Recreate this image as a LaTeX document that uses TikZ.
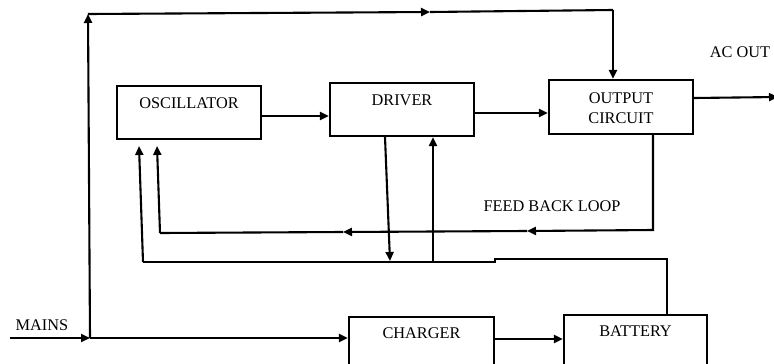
\documentclass[tikz,border=0pt]{standalone}
\usepackage{fontspec}
\setmainfont{Liberation Serif}
\usetikzlibrary{arrows.meta}
\begin{document}
\begin{tikzpicture}[x=1pt,y=-1pt,
  blk/.style={draw,line width=2.2pt,rectangle,inner sep=0pt},
  lbl/.style={inner sep=0pt,font=\fontsize{16.3}{19}\selectfont,align=center},
  wire/.style={line width=2.1pt},
  arr/.style={wire,-{Triangle[length=9pt,width=8pt]}}]
\clip (0,0) rectangle (774,364);
\fill[white] (0,0) rectangle (774,364);
% blocks
\node[blk,minimum width=144pt,minimum height=53pt] (osc) at (189,112.5) {};
\node[blk,minimum width=144pt,minimum height=53pt] (drv) at (402,109.5) {};
\node[blk,minimum width=144pt,minimum height=54pt] (out) at (621,107) {};
\node[blk,minimum width=145pt,minimum height=70pt] (chg) at (421.5,352) {};
\node[blk,minimum width=143pt,minimum height=70pt] (bat) at (635.5,350) {};
% texts
\node[lbl] (toscl) at (189,103) {OSCILLATOR};
\node[lbl] (tdrv) at (402,100) {DRIVER};
\node[lbl] (tout) at (621,108) {OUTPUT\\[1pt]CIRCUIT};
\node[lbl] (tchg) at (421.5,333) {CHARGER};
\node[lbl] (tbat) at (635.5,331) {BATTERY};
\node[lbl] (tac) at (740,52) {AC OUT};
\node[lbl] (tmains) at (42,325) {MAINS};
\node[lbl] (tfb) at (552,206) {FEED BACK LOOP};
% coordinates
\coordinate (min) at (10,338);
\coordinate (mj) at (90,338);
\coordinate (tl) at (88,14);
\coordinate (tm) at (430,12);
\coordinate (tr) at (613,10);
\coordinate (acend) at (778,97);
\coordinate (fb1) at (653,230);
\coordinate (fb2) at (527,231);
\coordinate (fb3) at (343,232);
\coordinate (fb4) at (160,233);
\coordinate (fbt) at (157,146);
\coordinate (b1) at (667,259);
\coordinate (b2) at (143,262);
\coordinate (bt) at (139,146);
\coordinate (dd) at (390,261);
\coordinate (du) at (433,261);
% connectors
\draw[arr] (min) -- (mj);
\draw[arr] (mj) -- (chg.west |- mj);
\draw[arr] (mj) -- (tl);
\draw[arr] (tl) -- (tm);
\draw[wire] (tm) -- (tr);
\draw[arr] (tr) -- (tr |- out.north);
\draw[arr] (osc.east |- 0,116) -- (drv.west |- 0,116);
\draw[arr] (drv.east |- 0,113) -- (out.west |- 0,113);
\draw[arr] (out.east |- 0,98) -- (acend);
\draw[arr] (out.south -| fb1) -- (fb1) -- (fb2);
\draw[arr] (fb2) -- (fb3);
\draw[wire] (fb3) -- (fb4);
\draw[arr] (fb4) -- (fbt);
\draw[wire] (bat.north -| b1) -- (b1) -- (b1 -| 495,0) -- (495,262) -- (b2);
\draw[arr] (b2) -- (bt);
\draw[arr] (drv.south -| 385,0) -- (dd);
\draw[arr] (du) -- (du |- drv.south);
\draw[arr] (chg.east |- 0,339) -- (bat.west |- 0,339);
\end{tikzpicture}
\end{document}
